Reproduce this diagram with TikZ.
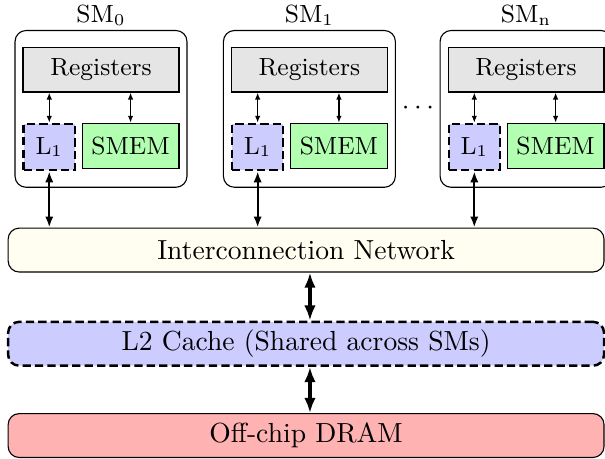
\documentclass[tikz,border=0pt]{standalone}
\usetikzlibrary{arrows.meta,positioning,fit}

\begin{document}
\begin{tikzpicture}[
    >={Latex[length=4pt,width=3pt]},
    node distance=10.9pt and 0pt,
    every node/.style={font=\small},
    regs/.style={
        draw, line width=0.4pt, fill=gray!20,
        minimum width=56.5pt, minimum height=16.3pt, inner sep=0pt
    },
    lone/.style={
        draw, line width=0.9pt, dash pattern=on 3pt off 1.5pt,
        fill=blue!20,
        minimum width=18.5pt, minimum height=16.7pt, inner sep=0pt
    },
    smem/.style={
        draw, line width=0.4pt, fill=green!30,
        minimum width=35.1pt, minimum height=16.3pt, inner sep=0pt
    },
    smbox/.style={
        draw, line width=0.4pt, rounded corners=4pt,
        inner xsep=2.7pt, inner ysep=5.8pt
    },
    level/.style={
        draw, line width=0.4pt, rounded corners=4pt, font=\normalsize,
        minimum width=215.9pt, minimum height=15.9pt, inner sep=0pt
    },
    tinyarr/.style={<->, >={Latex[length=2.5pt,width=2pt]}, line width=0.5pt},
    arr/.style={<->, line width=0.8pt},
    bigarr/.style={<->, >={Latex[length=5.5pt,width=4.2pt]}, line width=1.2pt}
]
    \useasboundingbox (0,0) rectangle (219.2pt,-166.3pt);

    % SM 0
    \node[regs] (R0) at (36.6pt,-25.2pt) {Registers};
    \node[lone] (L0) [below right=of R0.south west] {L$_1$};
    \node[smem] (S0) [below left=of R0.south east] {SMEM};
    \node[smbox, fit=(R0)(L0)(S0),
          label={[inner sep=1.5pt]above:SM$_0$}] (SM0) {};

    % SM 1
    \node[regs] (R1) at (112.1pt,-25.2pt) {Registers};
    \node[lone] (L1) [below right=of R1.south west] {L$_1$};
    \node[smem] (S1) [below left=of R1.south east] {SMEM};
    \node[smbox, fit=(R1)(L1)(S1),
          label={[inner sep=1.5pt]above:SM$_1$}] (SM1) {};

    % SM n
    \node[regs] (Rn) at (190.6pt,-25.2pt) {Registers};
    \node[lone] (Ln) [below right=of Rn.south west] {L$_1$};
    \node[smem] (Sn) [below left=of Rn.south east] {SMEM};
    \node[smbox, fit=(Rn)(Ln)(Sn),
          label={[inner sep=1.5pt]above:SM$_\mathrm{n}$}] (SMn) {};

    \node[font=\normalsize] (dots) at (151.4pt,-39.1pt) {$\cdots$};

    % shared levels
    \node[level, fill=yellow!6] (IN) at (110.9pt,-90.6pt) {Interconnection Network};
    \node[level, fill=blue!20, line width=0.9pt,
          dash pattern=on 3pt off 1.5pt] (L2) [below=17.4pt of IN]
          {L2 Cache (Shared across SMs)};
    \node[level, fill=red!30] (DRAM) [below=16.7pt of L2] {Off-chip DRAM};

    % Edges
    \draw[tinyarr] (L0 |- R0.south) -- (L0);
    \draw[tinyarr] (S0 |- R0.south) -- (S0);
    \draw[tinyarr] (L1 |- R1.south) -- (L1);
    \draw[tinyarr] (S1 |- R1.south) -- (S1);
    \draw[tinyarr] (Ln |- Rn.south) -- (Ln);
    \draw[tinyarr] (Sn |- Rn.south) -- (Sn);

    \draw[arr] (L0) -- (L0 |- IN.north);
    \draw[arr] (L1) -- (L1 |- IN.north);
    \draw[arr] (Ln) -- (Ln |- IN.north);

    \draw[bigarr] ([xshift=1.4pt]IN.south) -- ([xshift=1.4pt]L2.north);
    \draw[bigarr] ([xshift=1.4pt]L2.south) -- ([xshift=1.4pt]DRAM.north);

\end{tikzpicture}
\end{document}
